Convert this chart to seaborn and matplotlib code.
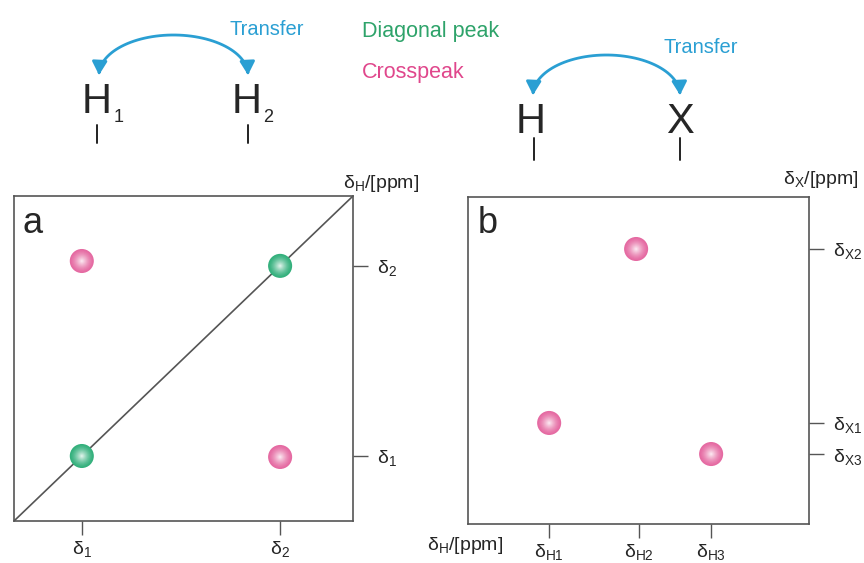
import numpy as np
import matplotlib
matplotlib.use("Agg")
import matplotlib.pyplot as plt
from matplotlib.patches import FancyArrowPatch
from matplotlib.path import Path
from matplotlib.colors import to_rgb
import seaborn as sns

# =========================
# Data
# =========================

# panel a: homonuclear (H / H)
shift_labels_a = [r"$\mathregular{δ_1}$", r"$\mathregular{δ_2}$"]
shifts_a = [2.0, 7.85]

diag_x = [2.0, 7.85]
diag_y = [2.0, 7.85]
cross_x = [2.0, 7.85]
cross_y = [8.0, 1.97]

# panel b: heteronuclear (H / X)
h_labels = [r"$\mathregular{δ_{H1}}$", r"$\mathregular{δ_{H2}}$", r"$\mathregular{δ_{H3}}$"]
h_shifts = [2.38, 5.01, 7.13]
x_labels = [r"$\mathregular{δ_{X1}}$", r"$\mathregular{δ_{X2}}$", r"$\mathregular{δ_{X3}}$"]
x_shifts = [3.09, 8.41, 2.14]

peak_h = [2.38, 4.93, 7.13]
peak_x = [3.09, 8.41, 2.14]

axis_range = [0, 10]

# =========================
# Style
# =========================

sns.set_style("white")
plt.rcParams["font.family"] = ["Liberation Sans", "DejaVu Sans"]
plt.rcParams["mathtext.fontset"] = "dejavusans"

GREEN = "#33b07c"
PINK = "#e56aa2"
BLUE = "#2a9fd3"
FRAME = "#555555"

fig = plt.figure(figsize=(8.64, 5.63), dpi=100)
W, H = 864, 563


def px_axes(x0, y0, x1, y1):
    return fig.add_axes([x0 / W, 1 - y1 / H, (x1 - x0) / W, (y1 - y0) / H])


def sphere(ax, xs, ys, color, size=300, layers=14):
    base = np.array(to_rgb(color))
    white = np.ones(3)
    for i in range(layers):
        frac = i / layers
        r = 1 - frac
        mix = 0.92 * frac ** 1.4
        c = base * (1 - mix) + white * mix
        sns.scatterplot(x=xs, y=ys, ax=ax, s=size * r ** 2, color=c,
                        edgecolor="none", linewidth=0, zorder=3 + i * 0.01,
                        legend=False)


def frame(ax):
    for sp in ax.spines.values():
        sp.set_visible(True)
        sp.set_color(FRAME)
        sp.set_linewidth(1.2)
    ax.set_xlim(axis_range)
    ax.set_ylim(axis_range)
    ax.yaxis.tick_right()
    ax.tick_params(axis="y", right=True, left=False, labelright=True,
                   labelleft=False, length=11, width=1, color=FRAME,
                   pad=6, labelsize=14)
    ax.tick_params(axis="x", bottom=True, length=10, width=1,
                   color=FRAME, pad=3, labelsize=14)
    ax.set_xlabel("")
    ax.set_ylabel("")


# =========================
# Panel a
# =========================

ax_a = px_axes(14, 196, 353, 521)
ax_a.plot(axis_range, axis_range, color=FRAME, lw=1.2, zorder=2)
sphere(ax_a, diag_x, diag_y, GREEN)
sphere(ax_a, cross_x, cross_y, PINK)
frame(ax_a)
ax_a.set_xticks(shifts_a, shift_labels_a)
ax_a.set_yticks(shifts_a, shift_labels_a)

# =========================
# Panel b
# =========================

ax_b = px_axes(468, 197, 809, 524)
sphere(ax_b, peak_h, peak_x, PINK)
frame(ax_b)
ax_b.set_xticks(h_shifts, h_labels)
ax_b.set_yticks(x_shifts, x_labels)

# =========================
# Annotations (pixel overlay)
# =========================

ov = fig.add_axes([0, 0, 1, 1], zorder=5)
ov.set_xlim(0, W)
ov.set_ylim(H, 0)
ov.axis("off")
ov.patch.set_alpha(0)

ov.text(22, 233, "a", fontsize=26, ha="left", va="baseline")
ov.text(478, 233, "b", fontsize=26, ha="left", va="baseline")

ov.text(343, 188, r"$\mathregular{δ_H}$/[ppm]", fontsize=14, va="baseline")
ov.text(783, 184, r"$\mathregular{δ_X}$/[ppm]", fontsize=14, va="baseline")
ov.text(427, 550, r"$\mathregular{δ_H}$/[ppm]", fontsize=14, va="baseline")

# atoms
ov.text(97, 113, "H", fontsize=30, ha="center", va="baseline")
ov.text(114, 122, "1", fontsize=13, ha="left", va="baseline")
ov.text(247, 113, "H", fontsize=30, ha="center", va="baseline")
ov.text(263, 122, "2", fontsize=13, ha="left", va="baseline")
ov.text(531, 133, "H", fontsize=30, ha="center", va="baseline")
ov.text(680, 133, "X", fontsize=30, ha="center", va="baseline")
for bx, by0, by1 in [(97, 125, 143), (248, 125, 143), (534, 138, 160), (680, 138, 160)]:
    ov.plot([bx, bx], [by0, by1], color="#222222", lw=1.4)

ov.text(362, 37, "Diagonal peak", fontsize=15.5, color="#2ea36a", va="baseline")
ov.text(362, 78, "Crosspeak", fontsize=15.5, color="#e0478c", va="baseline")


def transfer_arrow(x0, x1, y, height):
    t = np.linspace(np.pi, 0, 60)
    cx, a = (x0 + x1) / 2, (x1 - x0) / 2
    verts = np.column_stack([cx + a * np.cos(t), y - height * np.sin(t)])
    arr = FancyArrowPatch(path=Path(verts),
                          arrowstyle="<|-|>,head_length=0.8,head_width=0.45",
                          mutation_scale=10, color=BLUE, lw=2,
                          shrinkA=0, shrinkB=0)
    ov.add_patch(arr)


transfer_arrow(99, 248, 75, 40)
ov.text(267, 35, "Transfer", fontsize=14.5, color=BLUE, ha="center", va="baseline")
transfer_arrow(533, 680, 95, 40)
ov.text(701, 53, "Transfer", fontsize=14.5, color=BLUE, ha="center", va="baseline")

plt.savefig("out.png", dpi=100)
